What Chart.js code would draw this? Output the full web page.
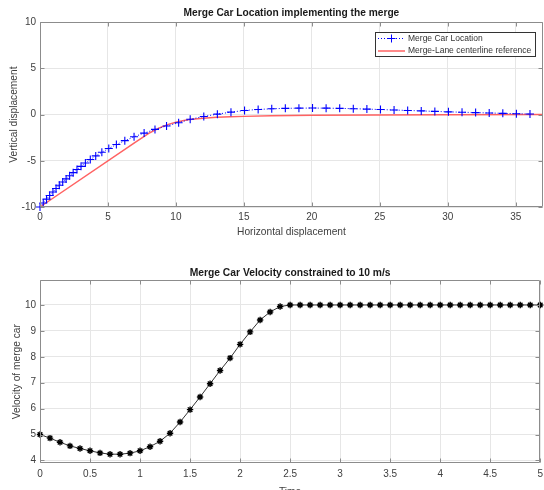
<!DOCTYPE html>
<html>
<head>
<meta charset="utf-8">
<script src="https://cdn.jsdelivr.net/npm/chart.js@4.4.0/dist/chart.umd.min.js"></script>
<style>
html, body { margin: 0; padding: 0; background: #fff; overflow: hidden; width: 544px; height: 490px; }
#top { position: absolute; left: 0; top: 0; }
#bottom { position: absolute; left: 0; top: 245px; }
</style>
</head>
<body>
<canvas id="top" width="548" height="245"></canvas>
<canvas id="bottom" width="548" height="260"></canvas>
<script>
// merge car path (sampled every 0.1 s)
const carX = [0, 0.24, 0.48, 0.71, 0.95, 1.18, 1.42, 1.67, 1.92, 2.18, 2.44, 2.72, 3.02, 3.34, 3.70, 4.10, 4.55, 5.06, 5.62, 6.24, 6.92, 7.66, 8.46, 9.31, 10.20,
    11.05, 12.05, 13.05, 14.05, 15.05, 16.05, 17.05, 18.05, 19.05, 20.05, 21.05, 22.05, 23.05, 24.05, 25.05, 26.05,
    27.05, 28.05, 29.05, 30.05, 31.05, 32.05, 33.05, 34.05, 35.05, 36.05];
const carY = [-10, -9.57, -9.15, -8.76, -8.37, -8.00, -7.64, -7.30, -6.96, -6.62, -6.28, -5.94, -5.60, -5.24, -4.86, -4.47, -4.07, -3.66, -3.24, -2.82, -2.40, -2.00, -1.60, -1.23, -0.88,
    -0.50, -0.20, 0.05, 0.27, 0.45, 0.56, 0.63, 0.68, 0.70, 0.71, 0.70, 0.68, 0.64, 0.60, 0.55, 0.50,
    0.45, 0.40, 0.35, 0.30, 0.26, 0.22, 0.18, 0.14, 0.10, 0.06];

// merge lane centerline
const refX = [0, 7, 7.5, 8, 8.5, 9, 9.5, 10, 10.5, 11, 12, 13, 14, 15, 17, 20, 25, 30, 37];
const refY = [-10, -3, -2.52, -2.04, -1.64, -1.30, -1.03, -0.83, -0.67, -0.54, -0.38, -0.29, -0.23, -0.19, -0.13, -0.07, -0.03, -0.01, 0];

// velocity
const times = [0, 0.1, 0.2, 0.3, 0.4, 0.5, 0.6, 0.7, 0.8, 0.9, 1.0, 1.1, 1.2, 1.3, 1.4, 1.5, 1.6, 1.7, 1.8, 1.9, 2.0,
    2.1, 2.2, 2.3, 2.4, 2.5, 2.6, 2.7, 2.8, 2.9, 3.0, 3.1, 3.2, 3.3, 3.4, 3.5, 3.6, 3.7, 3.8, 3.9, 4.0,
    4.1, 4.2, 4.3, 4.4, 4.5, 4.6, 4.7, 4.8, 4.9, 5.0];
const speed = [5.0, 4.86, 4.70, 4.56, 4.46, 4.37, 4.29, 4.24, 4.24, 4.28, 4.37, 4.53, 4.74, 5.05, 5.48, 5.96, 6.45, 6.96, 7.47, 7.95, 8.48,
    8.96, 9.42, 9.73, 9.94, 10, 10, 10, 10, 10, 10, 10, 10, 10, 10, 10, 10, 10, 10, 10, 10,
    10, 10, 10, 10, 10, 10, 10, 10, 10, 10];

const topXTicks = [0, 5, 10, 15, 20, 25, 30, 35];
const topYTicks = [-10, -5, 0, 5, 10];
const botXTicks = [0, 0.5, 1, 1.5, 2, 2.5, 3, 3.5, 4, 4.5, 5];
const botYTicks = [4, 5, 6, 7, 8, 9, 10];

Chart.defaults.font.family = '"Liberation Sans", Arial, sans-serif';
Chart.defaults.color = '#404040';

let axisColor = '#8c8c8c';
let gridColor = '#e6e6e6';

// matlab style box with inward ticks
let axesBox = {
    id: 'axesBox',
    afterDraw: function (chart) {
        let ctx = chart.ctx;
        let a = chart.chartArea;
        let sx = chart.scales.x, sy = chart.scales.y;
        let l = Math.round(a.left) + 0.5, r = Math.round(a.right) - 0.5;
        let t = Math.round(a.top) + 0.5, b = Math.round(a.bottom) - 0.5;
        ctx.save();
        ctx.strokeStyle = axisColor;
        ctx.lineWidth = 1;
        ctx.beginPath();
        ctx.rect(l, t, r - l, b - t);
        sx.ticks.forEach(function (tk) {
            let px = Math.round(sx.getPixelForValue(tk.value)) + 0.5;
            ctx.moveTo(px, b); ctx.lineTo(px, b - 4);
            ctx.moveTo(px, t); ctx.lineTo(px, t + 4);
        });
        sy.ticks.forEach(function (tk) {
            let py = Math.round(sy.getPixelForValue(tk.value)) + 0.5;
            ctx.moveTo(l, py); ctx.lineTo(l + 4, py);
            ctx.moveTo(r, py); ctx.lineTo(r - 4, py);
        });
        ctx.stroke();
        ctx.restore();
    }
};

// legend drawn inside the axes, top right
let boxLegend = {
    id: 'boxLegend',
    afterDraw: function (chart) {
        let ctx = chart.ctx;
        let a = chart.chartArea;
        let sets = chart.data.datasets;
        ctx.save();
        ctx.font = '8.5px "Liberation Sans", Arial, sans-serif';
        let textW = Math.max.apply(null, sets.map(function (d) { return ctx.measureText(d.label).width; }));
        let w = Math.round(textW + 37), h = sets.length * 12;
        let right = Math.round(a.right) - 8, top = Math.round(a.top) + 10;
        let left = right - w;
        ctx.fillStyle = '#fff';
        ctx.fillRect(left, top, w, h);
        ctx.strokeStyle = '#333';
        ctx.lineWidth = 1;
        ctx.strokeRect(left + 0.5, top + 0.5, w, h);
        sets.forEach(function (d, i) {
            let y = top + 6.5 + i * 12.5;
            ctx.strokeStyle = d.borderColor;
            ctx.lineWidth = d.borderWidth;
            ctx.setLineDash(d.borderDash || []);
            ctx.beginPath(); ctx.moveTo(left + 3, y); ctx.lineTo(left + 30, y); ctx.stroke();
            ctx.setLineDash([]);
            if (d.pointStyle === 'cross') {
                let cx = left + 16.5;
                ctx.lineWidth = 1;
                ctx.beginPath();
                ctx.moveTo(cx - 4, y); ctx.lineTo(cx + 4, y);
                ctx.moveTo(cx, y - 4); ctx.lineTo(cx, y + 4);
                ctx.stroke();
            }
            ctx.fillStyle = '#333';
            ctx.textBaseline = 'middle';
            ctx.fillText(d.label, left + 33, y);
        });
        ctx.restore();
    }
};

let makeAxis = function (min, max, ticks, size, isX, label, tickPad, titlePad) {
    return {
        type: 'linear', min: min, max: max,
        afterBuildTicks: function (s) { s.ticks = ticks.map(function (v) { return { value: v }; }); },
        afterFit: function (s) { if (isX) s.height = size; else s.width = size; },
        grid: { color: gridColor, drawTicks: false },
        border: { display: false },
        ticks: {
            padding: tickPad, font: { size: 10 }, color: '#404040', maxRotation: 0,
            callback: function (v) { return String(v); }
        },
        title: { display: true, text: label, font: { size: 10.2 }, color: '#404040', padding: titlePad }
    };
};

new Chart(document.getElementById('top'), {
    type: 'line',
    data: {
        datasets: [{
            label: 'Merge Car Location',
            data: carX.map(function (x, i) { return { x: x, y: carY[i] }; }),
            borderColor: '#0000ff', borderWidth: 1, borderDash: [1, 2],
            pointStyle: 'cross', pointRadius: 4, pointBorderColor: '#0000ff', pointBorderWidth: 1.1,
            fill: false, tension: 0, clip: false
        }, {
            label: 'Merge-Lane centerline reference',
            data: refX.map(function (x, i) { return { x: x, y: refY[i] }; }),
            borderColor: 'rgba(255, 70, 70, 0.85)', borderWidth: 1.5,
            pointRadius: 0, fill: false, tension: 0, clip: false
        }]
    },
    options: {
        responsive: false, animation: false,
        layout: { padding: { right: 4 } },
        plugins: {
            legend: { display: false }, tooltip: { enabled: false },
            title: {
                display: true, text: 'Merge Car Location implementing the merge', fullSize: false,
                color: '#1a1a1a', font: { size: 10.2, weight: 'bold' }, padding: { top: 7, bottom: 3 }
            }
        },
        scales: {
            x: makeAxis(0, 37, topXTicks, 38, true, 'Horizontal displacement', 4, { top: 0, bottom: 7 }),
            y: makeAxis(-10, 10, topYTicks, 40, false, 'Vertical displacement', 4, { top: 8, bottom: 0 })
        }
    },
    plugins: [axesBox, boxLegend]
});

new Chart(document.getElementById('bottom'), {
    type: 'line',
    data: {
        datasets: [{
            label: 'Velocity',
            data: times.map(function (t, i) { return { x: t, y: speed[i] }; }),
            borderColor: '#333', borderWidth: 1,
            pointStyle: 'star', pointRadius: 3.2, pointBorderColor: '#000', pointBorderWidth: 1.4,
            fill: false, tension: 0, clip: false
        }]
    },
    options: {
        responsive: false, animation: false,
        layout: { padding: { right: 4 } },
        plugins: {
            legend: { display: false }, tooltip: { enabled: false },
            title: {
                display: true, text: 'Merge Car Velocity constrained to 10 m/s', fullSize: false,
                color: '#1a1a1a', font: { size: 10.3, weight: 'bold' }, padding: { top: 22, bottom: 1 }
            }
        },
        scales: {
            x: makeAxis(0, 5, botXTicks, 42, true, 'Time', 5, { top: 0, bottom: 7 }),
            y: makeAxis(3.9, 10.95, botYTicks, 40, false, 'Velocity of merge car', 4, { top: 11, bottom: 0 })
        }
    },
    plugins: [axesBox]
});
</script>
</body>
</html>
